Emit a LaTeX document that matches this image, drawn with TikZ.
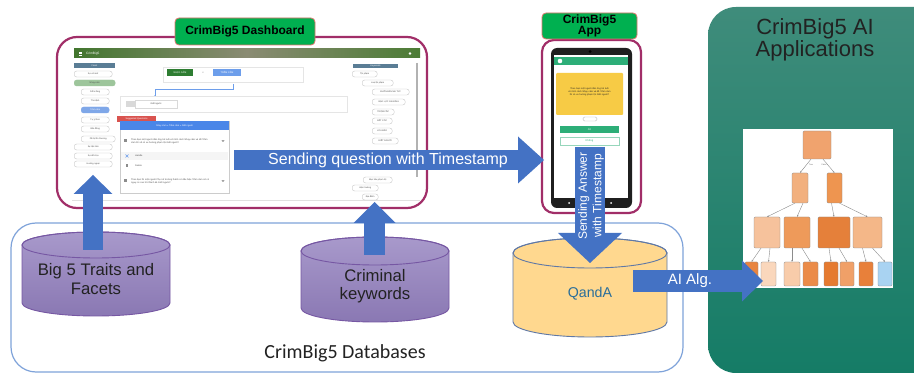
\documentclass[tikz,border=0pt]{standalone}
\usepackage{fontspec}
\setmainfont{Liberation Sans}
\newfontfamily\dbfont{Carlito}
\usetikzlibrary{arrows.meta}

\definecolor{arrowblue}{HTML}{4472C4}
\definecolor{framemag}{HTML}{A12E68}
\definecolor{titlegreen}{HTML}{00B050}
\definecolor{titleedge}{HTML}{E4746E}
\definecolor{dbedge}{HTML}{7FA3DA}
\definecolor{purptop}{HTML}{A899CB}
\definecolor{purpbot}{HTML}{8A78B3}
\definecolor{purpedge}{HTML}{7657A3}
\definecolor{qayellow}{HTML}{FFD88F}
\definecolor{qaedge}{HTML}{5F78A6}
\definecolor{qatext}{HTML}{2A6E9A}
\definecolor{aitop}{HTML}{3F8C7B}
\definecolor{aibot}{HTML}{157C66}
\definecolor{barleft}{HTML}{42762E}
\definecolor{barmid}{HTML}{8A8B73}
\definecolor{barright}{HTML}{4C7C35}
\definecolor{panelhead}{HTML}{5A7D95}
\definecolor{pillgreen}{HTML}{9DC59B}
\definecolor{pillblue}{HTML}{7FA7E8}
\definecolor{btngreen}{HTML}{2E7D32}
\definecolor{btnblue}{HTML}{6D9EEB}
\definecolor{sqred}{HTML}{D9534F}
\definecolor{sqblue}{HTML}{4A86E8}
\definecolor{appgreen}{HTML}{2DAE78}
\definecolor{appyellow}{HTML}{F7CB45}
\definecolor{darktext}{HTML}{222222}

\begin{document}
\begin{tikzpicture}[x=1pt, y=-1pt,
    titlebox/.style={draw=titleedge, fill=titlegreen, rounded corners=4, line width=0.8,
        font=\bfseries\fontsize{12}{11.5}\selectfont, align=center, text=black, inner sep=0},
    frame/.style={draw=framemag, line width=2.2, fill=white},
    purpcyl/.style={draw=purpedge, line width=0.9, top color=purptop, bottom color=purpbot},
    yellcyl/.style={draw=qaedge, line width=0.9, fill=qayellow},
    dbtext/.style={font=\fontsize{16.7}{18.5}\selectfont, text=darktext, align=center},
    blockarrow/.style={draw=arrowblue, line cap=butt},
    arrowtext/.style={text=white, align=center},
    pill/.style={draw=black!22, fill=white, rounded corners=2.5, line width=0.4, inner sep=0.5,
        minimum height=6, anchor=west, font=\fontsize{2.2}{2.6}\selectfont, text=black!70},
    tinytext/.style={font=\fontsize{2.3}{2.9}\selectfont, text=black!70, inner sep=0},
    treebox/.style={draw=black!45, rounded corners=1.2, line width=0.3, inner sep=0},
    treeedge/.style={draw=black!45, line width=0.4, -{Stealth[length=2pt,width=1.6pt]}}
]

    \useasboundingbox (0,0) rectangle (914,374);
    \clip (0,0) rectangle (914,374);
    \fill[white] (0,0) rectangle (914,374);

    % Databases
    \draw[dbedge, line width=1.2, rounded corners=25] (11,223) rectangle (683,372);
    \node[font=\dbfont\fontsize{20}{22}\selectfont, text=darktext] (dblabel) at (345,353) {CrimBig5 Databases};

    % Cylinders
    \draw[purpcyl] (22,245) -- (22,303) arc[start angle=180, end angle=0, x radius=74, y radius=13]
        -- (170,245) arc[start angle=0, end angle=-180, x radius=74, y radius=13] -- cycle;
    \draw[purpedge, line width=0.9] (96,245) ellipse[x radius=74, y radius=13];
    \draw[purpcyl] (301,251) -- (301,308) arc[start angle=180, end angle=0, x radius=74, y radius=14]
        -- (449,251) arc[start angle=0, end angle=-180, x radius=74, y radius=14] -- cycle;
    \draw[purpedge, line width=0.9] (375,251) ellipse[x radius=74, y radius=14];
    \draw[yellcyl] (513,253) -- (513,322) arc[start angle=180, end angle=0, x radius=77, y radius=15]
        -- (667,253) arc[start angle=0, end angle=-180, x radius=77, y radius=15] -- cycle;
    \draw[qaedge, line width=0.9] (590,253) ellipse[x radius=77, y radius=15];

    % Dashboard
    \draw[frame, rounded corners=20] (57,37) rectangle (427,208);
    \shade[left color=barleft, right color=barright, middle color=barmid] (74,49) rectangle (420,58);
    \foreach \ly in {52,53.5,55} \draw[white, line width=0.4] (79,\ly) -- (82,\ly);
    \node[font=\fontsize{3.2}{3.5}\selectfont, text=white, anchor=west, inner sep=0] (dashname) at (86,53.5) {CrimBig5};
    \fill[white] (410,53.5) circle (1.4);
    \draw[black!12, line width=0.5] (72,200) -- (420,200);
    \draw[black!30, line width=1.2] (417,63) -- (417,177);

    % Facet panel
    \fill[panelhead] (74,63) rectangle (115,68);
    \node[tinytext, text=white] (facethead) at (94.5,65.5) {Facet};
    \foreach \py/\px/\pw/\pt in {74/74/38/Sự cởi mở, 92/81/28/Dễ lo lắng, 101/81/28/Thù địch,
        120/81/28/Tự ý thức, 129/81/28/Bốc đồng, 139/81/34/Dễ bị tổn thương,
        147/74/38/Sự tận tâm, 156/74/38/Sự dễ chịu, 164/74/38/Hướng ngoại}
        \node[pill, minimum width=\pw] (fp\py) at (\px,\py) {\pt};
    \node[pill, minimum width=41, fill=pillgreen, draw=pillgreen] (fp83) at (74,83) {Nhạy cảm};
    \node[pill, minimum width=28, fill=pillblue, draw=pillblue, text=white] (fp110) at (81,110) {Trầm cảm};

    % Path boxes
    \draw[black!10, line width=0.5] (163,67) rectangle (303,82);
    \node[fill=btngreen, text=white, font=\fontsize{2.4}{2.8}\selectfont, minimum width=26, minimum height=7, inner sep=0] (bnhay) at (180,72.5) {NHẠY CẢM};
    \node[tinytext] (bx) at (203,72.5) {×};
    \node[fill=btnblue, text=white, font=\fontsize{2.4}{2.8}\selectfont, minimum width=28, minimum height=7, inner sep=0] (btram) at (227,72.5) {TRẦM CẢM};
    \draw[btnblue, line width=0.6] (233,84) -- (233,89) -- (155,89) -- (155,96);
    \fill[btnblue] (155,96) circle (0.8);
    \draw[black!10, line width=0.5] (120,96) rectangle (347,112);
    \fill[black!15] (126,101) rectangle (135,107);
    \node[draw=black!15, minimum width=42, minimum height=8, tinytext, inner sep=0] (bgiet) at (156,104) {Giết người};

    % Suggested questions
    \node[fill=sqred, text=white, font=\fontsize{2.3}{2.8}\selectfont, minimum width=39, minimum height=6, inner sep=0] (sqtab) at (136.5,119) {Suggested Questions};
    \draw[black!20, fill=white, line width=0.5] (120,121) rectangle (229,193);
    \node[fill=sqblue, text=white, font=\fontsize{2.3}{2.8}\selectfont, minimum width=109, minimum height=9, inner sep=0] (sqhead) at (174.5,125.5) {Nhạy cảm >> Trầm cảm >> Giết người};
    \fill[black!45] (123.5,139.5) rectangle (126.5,142.5);
    \node[tinytext, anchor=west, text width=80, align=left] (q1) at (131,141) {Theo bạn một người đàn ông trẻ tuổi với tính cách Nhạy cảm và dễ Trầm cảm thì sẽ có xu hướng phạm tội Giết người?};
    \fill[black!55] (221.5,140.3) -- (224.5,140.3) -- (223,142) -- cycle;
    \fill[black!4] (121,152) rectangle (228,160);
    \draw[btnblue, line width=0.5] (125.5,154.5) -- (128.5,157.5) (125.5,157.5) -- (128.5,154.5);
    \node[tinytext, anchor=west] (qhandle) at (135,156) {Handle};
    \fill[black!45] (126,164.5) rectangle (128,167.5);
    \node[tinytext, anchor=west] (qdelete) at (135,166) {Delete};
    \fill[black!45] (123.5,179.5) rectangle (126.5,182.5);
    \node[tinytext, anchor=west, text width=80, align=left] (q2) at (131,181) {Theo bạn thì một người Phụ nữ trưởng thành có dấu hiệu Trầm cảm sẽ có nguy cơ cao trở thành kẻ Giết người?};
    \fill[black!55] (221.5,180.3) -- (224.5,180.3) -- (223,182) -- cycle;

    % Keywords panel
    \fill[panelhead] (353,64) rectangle (398,68);
    \node[tinytext, text=white] (kwhead) at (375.5,66) {Keywords};
    \foreach \py/\px/\pw/\pt in {74/352/25/Tội phạm, 83/362/31/Loại tội phạm, 92/372/37/BUÔN BÁN MA TÚY,
        102/372/33/BẠO LỰC GIA ĐÌNH, 112/372/22/TRỘM CẮP, 121/372/20/BẮT CÓC, 131/372/20/LỪA ĐẢO,
        141/372/26/GIẾT NGƯỜI, 180/363/29/Mục tiêu phạm tội, 188/352/26/Hiện trường, 197/362/16/Địa điểm}
        \node[pill, minimum width=\pw] (kp\py) at (\px,\py) {\pt};

    \node[titlebox, minimum width=140, minimum height=27] (dashtitle) at (245,31.5) {CrimBig5 Dashboard};

    % App
    \draw[frame, rounded corners=12] (542,40) rectangle (641,213);
    \fill[black!88, rounded corners=6] (551,48) rectangle (632,208);
    \fill[white] (554,55) rectangle (628,198);
    \fill[black] (590,51.5) circle (1.5);
    \fill[appgreen] (554,57) rectangle (628,65);
    \fill[white] (560,61) circle (2.3);
    \fill[appyellow, rounded corners=1] (556,73) rectangle (623,115);
    \node[tinytext, text=black!85, text width=52, align=center] (appq) at (589.5,92) {Theo bạn một người đàn ông trẻ tuổi với tính cách Nhạy cảm và dễ Trầm cảm thì có xu hướng phạm tội Giết người?};
    \draw[black!25, line width=0.4, rounded corners=1.5] (583,117) rectangle (597,121);
    \node[fill=appgreen, text=white, font=\fontsize{2.6}{3}\selectfont, minimum width=59, minimum height=7, inner sep=0] (appyes) at (589.5,129.5) {Có};
    \node[draw=appgreen!50, text=appgreen, font=\fontsize{2.6}{3}\selectfont, minimum width=59, minimum height=8, inner sep=0] (appno) at (589.5,141) {Không};
    \fill[white] (569,203) circle (1) (611,203) circle (1);
    \node[titlebox, minimum width=95, minimum height=26] (apptitle) at (589.5,26) {CrimBig5\\App};

    % AI panel
    \shade[top color=aitop, bottom color=aibot, rounded corners=28] (708,7) rectangle (950,373);
    \node[font=\fontsize{22}{20}\selectfont, text=darktext, align=center] (aititle) at (815,40) {CrimBig5 AI\\Applications};
    \fill[white] (743,129) rectangle (893,288);
    \foreach \nm/\cx/\cy/\w/\h/\col in {t0/817/145/28/28/F0A36E, t1a/800/188/16/30/F2B07E,
        t1b/834.5/188/15/30/EE9550, t2a/767/232.5/26/31/F6C29C, t2b/797/232.5/26/31/EE9A5A,
        t2c/834/232.5/32/31/E5803A, t2d/867.5/232.5/29/31/F4B788, t3a/751.5/274/13/24/E8843F,
        t3b/768.5/274/15/24/FAD7BC, t3c/792/274/16/24/F8CCAA, t3d/810.5/274/15/24/EB8B48,
        t3e/831/274/14/24/E57A30, t3f/847/274/14/24/F0A068, t3g/866/274/14/24/E8803A,
        t3h/885/274/14/24/A9D3F2} {
        \definecolor{tc}{HTML}{\col}
        \node[treebox, fill=tc, minimum width=\w, minimum height=\h] (\nm) at (\cx,\cy) {};
    }
    \foreach \pa/\ch/\dx in {t0/t1a/-6, t0/t1b/6, t1a/t2a/-5, t1a/t2b/3, t1b/t2c/-3, t1b/t2d/5,
        t2a/t3a/-6, t2a/t3b/3, t2b/t3c/-5, t2b/t3d/5, t2c/t3e/-5, t2c/t3f/5, t2d/t3g/-5, t2d/t3h/5}
        \draw[treeedge] ([xshift=\dx]\pa.south) -- (\ch.north);
    \node[font=\fontsize{2}{2.4}\selectfont, text=black!60, inner sep=0] (ttrue) at (811,165) {True};
    \node[font=\fontsize{2}{2.4}\selectfont, text=black!60, inner sep=0] (tfalse) at (824,165) {False};

    % Arrows
    \coordinate (b5from) at (93,250);
    \coordinate (b5to) at (93,175);
    \coordinate (ckfrom) at (374.5,255);
    \coordinate (ckto) at (374.5,202);
    \coordinate (qfrom) at (234,160);
    \coordinate (qto) at (544,160);
    \coordinate (afrom) at (590,147);
    \coordinate (ato) at (590,263);
    \coordinate (aifrom) at (633,281);
    \coordinate (aito) at (763,281);

    \draw[blockarrow, line width=20, -{Triangle[width=39pt,length=19pt,line width=0pt]}] (b5from) -- (b5to);
    \draw[blockarrow, line width=21, -{Triangle[width=42pt,length=21pt,line width=0pt]}] (ckfrom) -- (ckto);
    \draw[blockarrow, line width=20, -{Triangle[width=47pt,length=26pt,line width=0pt]}] (qfrom) -- (qto);
    \draw[blockarrow, line width=30, -{Triangle[width=64pt,length=30pt,line width=0pt]}] (afrom) -- (ato);
    \draw[blockarrow, line width=22, -{Triangle[width=41pt,length=21pt,line width=0pt]}] (aifrom) -- (aito);

    % Labels
    \node[arrowtext, font=\fontsize{16}{18}\selectfont] (qtext) at (388,160) {Sending question with Timestamp};
    \node[arrowtext, font=\fontsize{12}{14.5}\selectfont, rotate=90] (atext) at (591,196) {Sending Answer\\with Timestamp};
    \node[arrowtext, font=\fontsize{15}{17}\selectfont] (aitext) at (690,281) {AI Alg.};
    \node[dbtext] (big5) at (96,279) {Big 5 Traits and\\Facets};
    \node[dbtext] (crim) at (375,286) {Criminal\\keywords};
    \node[font=\fontsize{14.2}{16}\selectfont, text=qatext] (qanda) at (590,294) {QandA};

\end{tikzpicture}
\end{document}
